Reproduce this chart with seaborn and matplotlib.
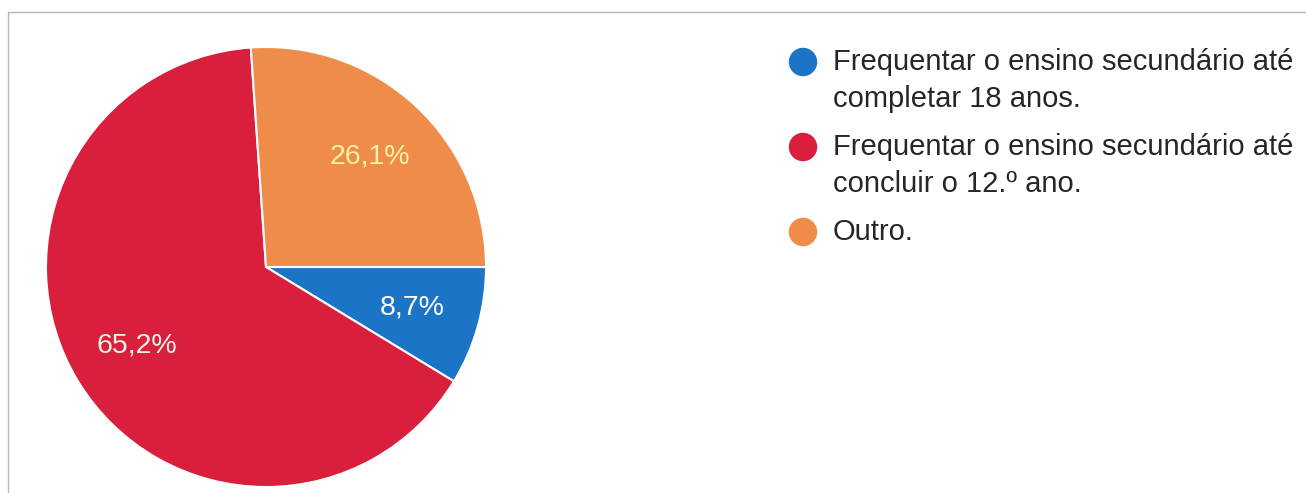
import matplotlib
matplotlib.use('Agg')
import matplotlib.pyplot as plt
import seaborn as sns
from matplotlib.patches import Rectangle

# Data
categories = ['Frequentar o ensino secundário até\ncompletar 18 anos.',
              'Frequentar o ensino secundário até\nconcluir o 12.º ano.',
              'Outro.']
values = [8.7, 65.2, 26.1]
colors = ['#1c74c6', '#d91f3b', '#ef8c4a']
pct_colors = ['white', '#f5f0ec', '#fbf3a6']

sns.set_theme(style='white')
plt.rcParams['font.family'] = ['Liberation Sans', 'DejaVu Sans']

fig = plt.figure(figsize=(13.06, 4.93), dpi=100)
fig.patch.set_facecolor('white')

# Pie
ax = fig.add_axes([46 / 1306, 6 / 493, 440 / 1306, 440 / 493])
wedges, texts, autotexts = ax.pie(
    values, colors=colors, startangle=0, counterclock=False,
    autopct=lambda p: f'{p:.1f}%'.replace('.', ','), pctdistance=0.69,
    wedgeprops={'edgecolor': 'white', 'linewidth': 1.5},
    textprops={'fontsize': 20.5})
for t, c in zip(autotexts, pct_colors):
    t.set_color(c)
ax.set_xlim(-1, 1)
ax.set_ylim(-1, 1)
ax.set_aspect('equal')

# Legend drawn in pixel coordinates
leg = fig.add_axes([0, 0, 1, 1], zorder=-1)
leg.set_xlim(0, 1306)
leg.set_ylim(493, 0)
leg.axis('off')
y = 62
for label, c in zip(categories, colors):
    leg.scatter(803, y, s=420, color=c, edgecolor='none')
    for line in label.split('\n'):
        leg.text(833, y, line, fontsize=21, color='#262626', va='center', ha='left')
        y += 37
    y += 11

# Frame around the chart
fig.add_artist(Rectangle((8 / 1306, -0.1), 2, (493 - 12) / 493 + 0.1,
                         transform=fig.transFigure, fill=False,
                         edgecolor='#b5b5b5', linewidth=1))

fig.savefig('out.png', dpi=100)
